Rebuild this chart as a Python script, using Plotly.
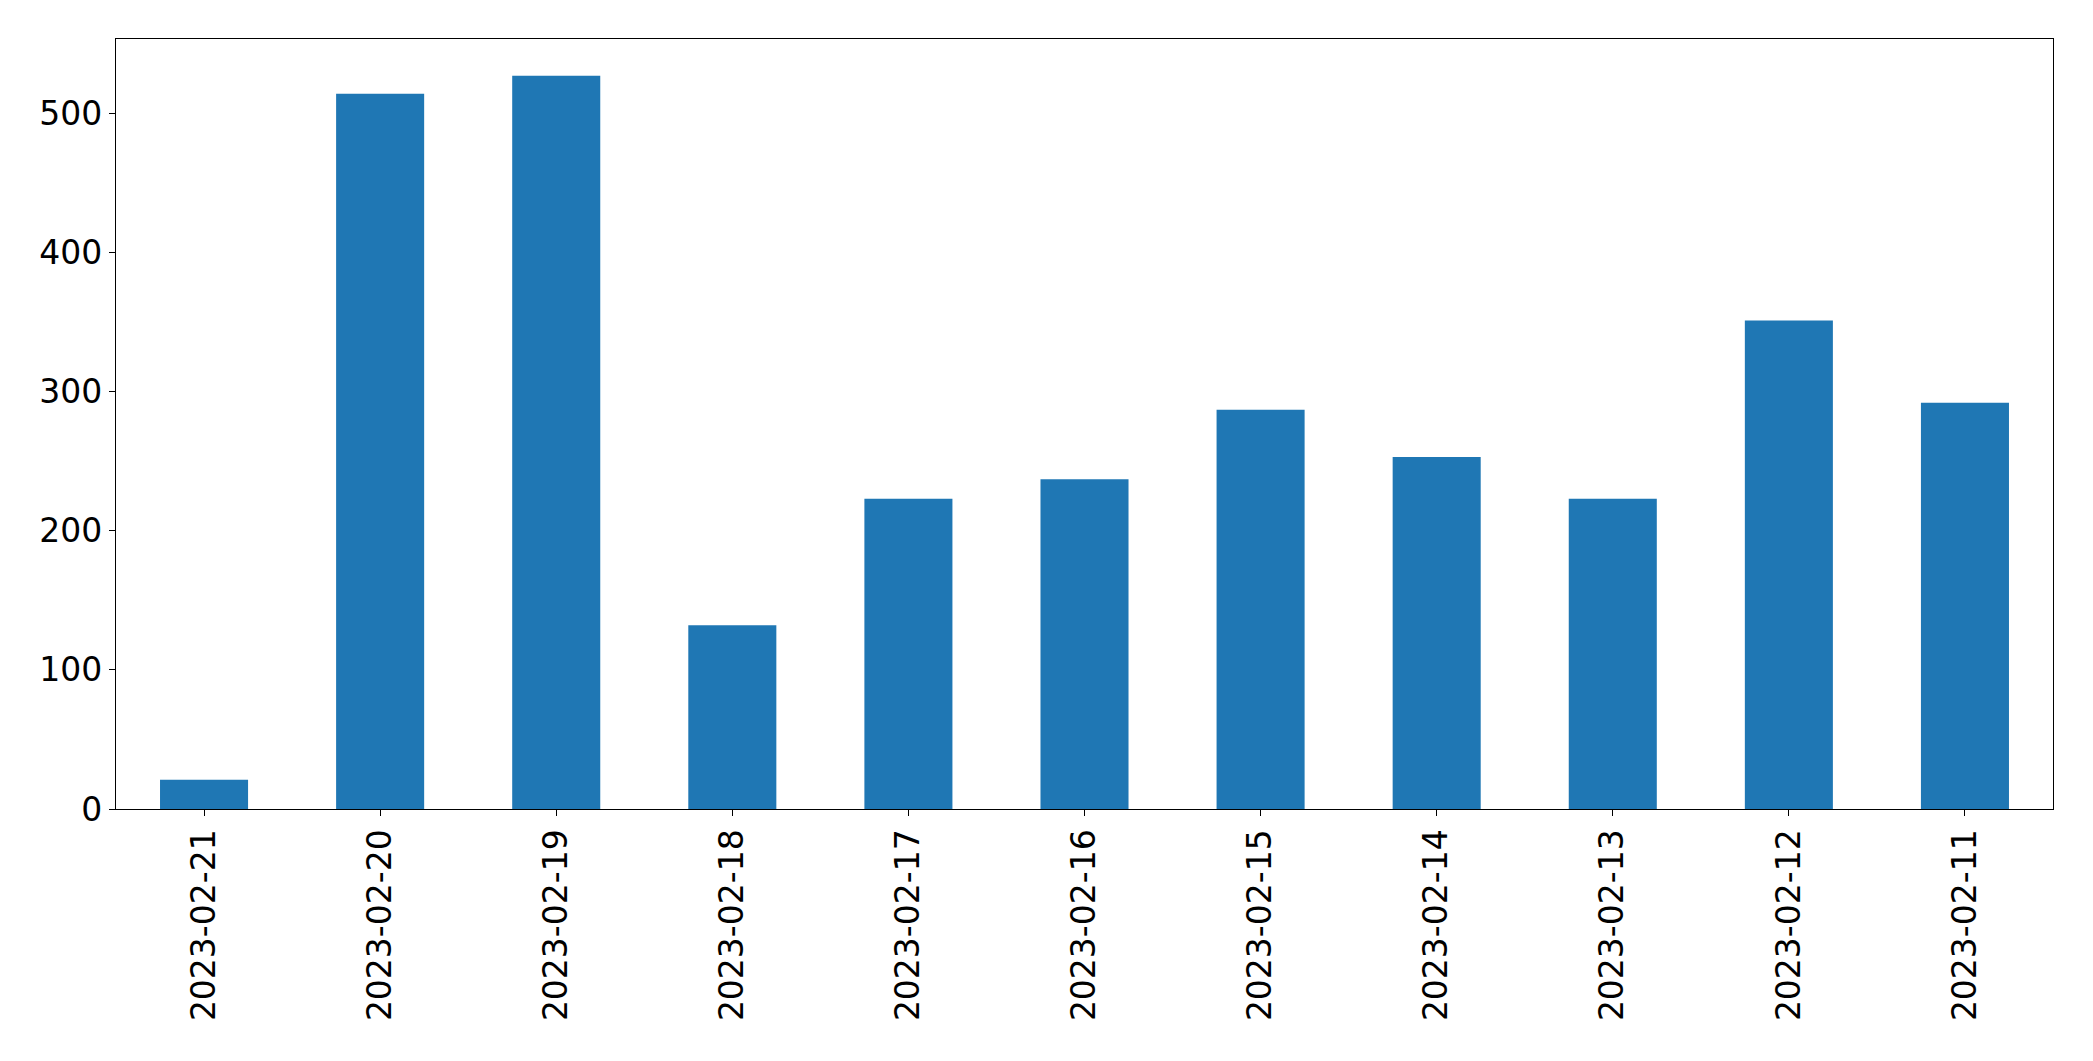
import plotly.graph_objects as go

dates = ["2023-02-21", "2023-02-20", "2023-02-19", "2023-02-18", "2023-02-17",
         "2023-02-16", "2023-02-15", "2023-02-14", "2023-02-13", "2023-02-12",
         "2023-02-11"]
counts = [21, 514, 527, 132, 223, 237, 287, 253, 223, 351, 292]

ymax = max(counts) * 1.05

fig = go.Figure(go.Bar(x=dates, y=counts, marker=dict(color="#1f77b4", line=dict(width=0))))

axis_font = dict(family="DejaVu Sans", size=33, color="black")
fig.update_layout(
    width=2093, height=1061,
    margin=dict(l=116, r=40, t=39, b=252),
    plot_bgcolor="white", paper_bgcolor="white",
    bargap=0.5, showlegend=False,
)
fig.update_xaxes(
    type="category", tickangle=-90, tickfont=axis_font,
    showline=True, linecolor="black", linewidth=1.3, mirror=True,
    ticks="outside", ticklen=6, tickcolor="black", tickwidth=1.3,
    showgrid=False, range=[-0.5, len(dates) - 0.5],
)
fig.update_yaxes(
    range=[0, ymax], tickvals=[0, 100, 200, 300, 400, 500], tickfont=axis_font,
    showline=True, linecolor="black", linewidth=1.3, mirror=True,
    ticks="outside", ticklen=6, tickcolor="black", tickwidth=1.3,
    showgrid=False, zeroline=False,
)
fig.write_html("out.html")
